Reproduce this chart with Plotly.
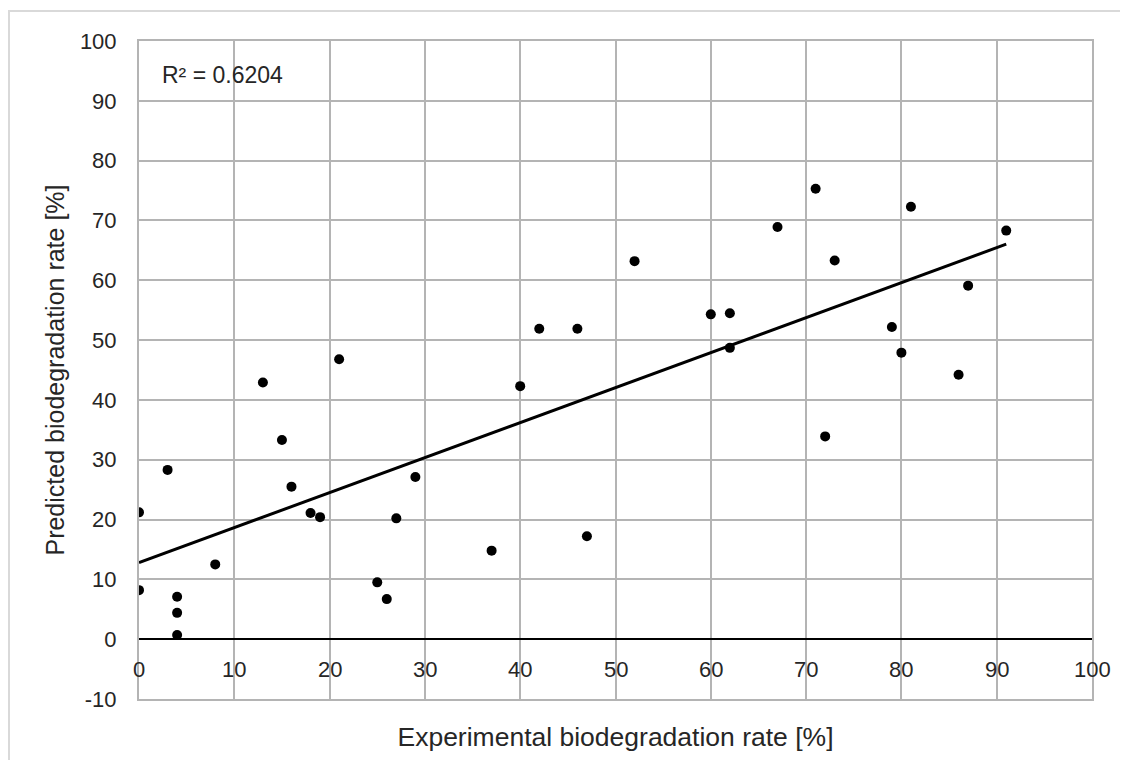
import numpy as np
import plotly.graph_objects as go

# Experimental vs predicted biodegradation rate [%]
experimental = [0, 0, 3, 4, 4, 4, 8, 13, 15, 16, 18, 19, 21, 25, 26, 27, 29,
                37, 40, 42, 46, 47, 52, 60, 62, 62, 67, 71, 72, 73, 79, 80,
                81, 86, 87, 91]
predicted = [21.2, 8.2, 28.3, 7.1, 4.4, 0.7, 12.5, 42.9, 33.3, 25.5, 21.1,
             20.4, 46.8, 9.5, 6.7, 20.2, 27.1, 14.8, 42.3, 51.9, 51.9, 17.2,
             63.2, 54.3, 54.5, 48.7, 68.9, 75.3, 33.9, 63.3, 52.2, 47.9, 72.3,
             44.2, 59.1, 68.3]

# Trend line
trend_slope = 0.585
trend_intercept = 12.8
trend_x = [0, 91]
trend_y = [trend_intercept + trend_slope * v for v in trend_x]
r2_label = "R² = 0.6204"

x_ticks = list(range(0, 101, 10))
x_tick_labels = [str(v) for v in x_ticks]
y_ticks = list(range(-10, 101, 10))
y_tick_labels = [str(v) for v in y_ticks]

FONT = "Liberation Sans, Arial, sans-serif"
GRID = "#b4b4b4"
TXT = "#262626"

fig = go.Figure()
fig.add_trace(go.Scatter(x=trend_x, y=trend_y, mode="lines",
                         line=dict(color="black", width=3), hoverinfo="skip",
                         showlegend=False))
fig.add_trace(go.Scatter(x=experimental, y=predicted, mode="markers",
                         marker=dict(color="black", size=10), showlegend=False))

annotations = []
for v, lab in zip(x_ticks, x_tick_labels):
    annotations.append(dict(x=v, y=0, xref="x", yref="y", text=lab,
                            showarrow=False, yanchor="top", xanchor="center",
                            yshift=-16, font=dict(family=FONT, size=22, color=TXT)))
annotations.append(dict(x=2.2, y=94.3, xref="x", yref="y", text=r2_label,
                        showarrow=False, xanchor="left", yanchor="middle",
                        font=dict(family=FONT, size=23, color=TXT)))

fig.update_layout(
    width=1128, height=760,
    margin=dict(l=131, r=44, t=33, b=69),
    paper_bgcolor="white", plot_bgcolor="white",
    font=dict(family=FONT, size=22, color=TXT),
    annotations=annotations,
    shapes=[dict(type="rect", xref="paper", yref="paper",
                 x0=-0.1364, x1=1.1, y0=-0.2, y1=1.0456,
                 line=dict(color="#d9d9d9", width=2), layer="below")],
)
fig.update_xaxes(range=[0, 100], tickvals=x_ticks, showticklabels=False,
                 showgrid=True, gridcolor=GRID, gridwidth=2,
                 zeroline=True, zerolinecolor="black", zerolinewidth=2,
                 showline=True, linecolor=GRID, linewidth=2, mirror=True,
                 ticks="",
                 title=dict(text="Experimental biodegradation rate [%]",
                            font=dict(family=FONT, size=26.5, color=TXT),
                            standoff=27),
                 automargin=False)
fig.update_yaxes(range=[-10, 100], tickvals=y_ticks, ticktext=y_tick_labels,
                 showgrid=True, gridcolor=GRID, gridwidth=2,
                 zeroline=True, zerolinecolor="black", zerolinewidth=2,
                 showline=True, linecolor=GRID, linewidth=2, mirror=True,
                 ticks="outside", ticklen=16, tickcolor="rgba(0,0,0,0)",
                 tickfont=dict(family=FONT, size=22, color=TXT),
                 title=dict(text="Predicted biodegradation rate [%]",
                            font=dict(family=FONT, size=25, color=TXT),
                            standoff=8),
                 automargin=False)

fig.write_html("out.html")
